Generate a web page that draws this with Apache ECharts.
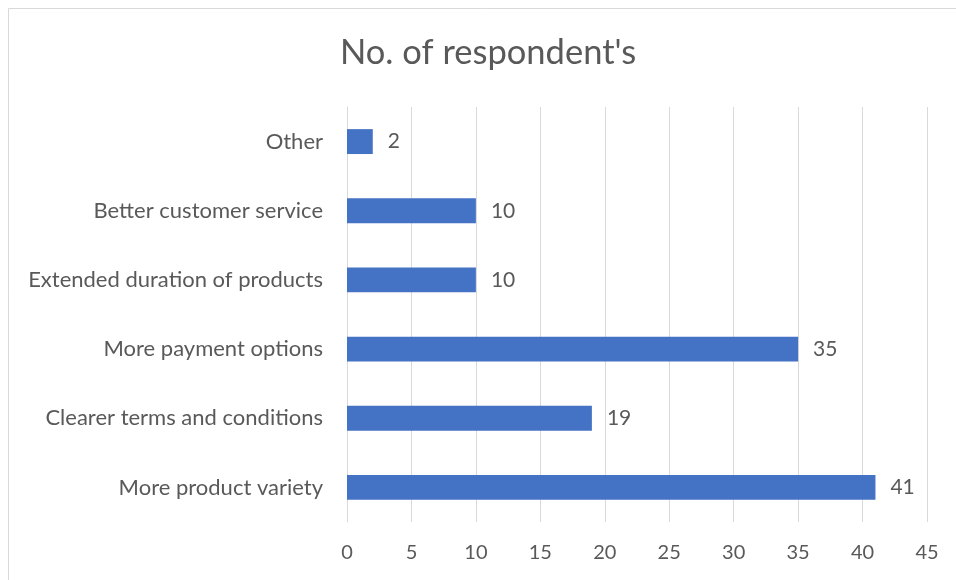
<!DOCTYPE html>
<html>
<head>
<meta charset="utf-8">
<script src="https://cdn.jsdelivr.net/npm/echarts@6/dist/echarts.min.js"></script>
<style>
  html, body { margin: 0; padding: 0; background: #fff; }
  #chart { width: 956px; height: 580px; }
</style>
</head>
<body>
<div id="chart"></div>
<script>
// Survey responses, listed bottom-to-top as drawn on the category axis
const categories = [
  'More product variety',
  'Clearer terms and conditions',
  'More payment options',
  'Extended duration of products',
  'Better customer service',
  'Other'
];
const respondents = [41, 19, 35, 10, 10, 2];
const xTicks = { min: 0, max: 45, interval: 5 };
const titleText = "No. of respondent's";

const FONT = 'Lato, "Open Sans", sans-serif';
const TEXT = '#595959';
const GRID = '#d9d9d9';

const chart = echarts.init(document.getElementById('chart'), null, { renderer: 'canvas' });
chart.setOption({
  backgroundColor: '#ffffff',
  animation: false,
  title: {
    text: titleText,
    left: 335,
    top: 30,
    textStyle: { fontFamily: FONT, fontSize: 34.5, fontWeight: 'normal', color: TEXT }
  },
  graphic: [{
    type: 'rect',
    shape: { x: 8.5, y: 8.5, width: 980, height: 600 },
    style: { fill: 'none', stroke: GRID, lineWidth: 1 },
    silent: true
  }],
  grid: { left: 347, right: 29, top: 107, bottom: 58, containLabel: false },
  xAxis: {
    type: 'value',
    min: xTicks.min,
    max: xTicks.max,
    interval: xTicks.interval,
    axisLine: { show: false },
    axisTick: { show: false },
    axisLabel: { fontFamily: FONT, fontSize: 20, color: TEXT, margin: 21 },
    splitLine: { show: true, lineStyle: { color: GRID, width: 1 } }
  },
  yAxis: {
    type: 'category',
    data: categories,
    axisLine: { show: true, lineStyle: { color: GRID, width: 1 } },
    axisTick: { show: false },
    axisLabel: { fontFamily: FONT, fontSize: 22, color: TEXT, margin: 24 }
  },
  series: [{
    type: 'bar',
    data: respondents,
    barWidth: '36%',
    itemStyle: { color: '#4472c4' },
    label: {
      show: true,
      position: 'right',
      distance: 15,
      fontFamily: FONT,
      fontSize: 21,
      color: TEXT
    }
  }]
});
</script>
</body>
</html>
